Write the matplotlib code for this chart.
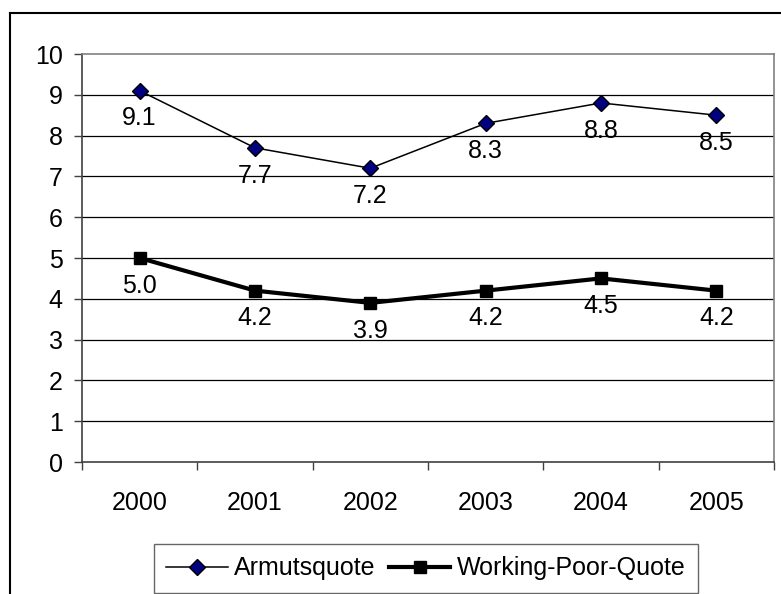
import matplotlib
matplotlib.use("Agg")
import matplotlib.pyplot as plt
from matplotlib.lines import Line2D

plt.rcParams['font.family'] = ['Liberation Sans', 'DejaVu Sans']

years = ["2000", "2001", "2002", "2003", "2004", "2005"]
armutsquote = [9.1, 7.7, 7.2, 8.3, 8.8, 8.5]
working_poor = [5.0, 4.2, 3.9, 4.2, 4.5, 4.2]
y_ticks = [0, 1, 2, 3, 4, 5, 6, 7, 8, 9, 10]

FS = 18

W, H = 781, 594
fig = plt.figure(figsize=(W / 100, H / 100), dpi=100)
fig.patch.set_facecolor('white')

# plot area in pixel units
left, top, right, bottom = 82, 54, 774, 462
ax = fig.add_axes([left / W, 1 - bottom / H, (right - left) / W, (bottom - top) / H])

x = list(range(len(years)))
ax.set_xlim(-0.5, len(years) - 0.5)
ax.set_ylim(0, 10)

for v in y_ticks[1:-1]:
    ax.axhline(v, color='black', lw=0.9, zorder=1)

ax.plot(x, armutsquote, color='black', lw=1.1, marker='D', markersize=8.5,
        markerfacecolor='#000080', markeredgecolor='black', markeredgewidth=1.0,
        label='Armutsquote', zorder=3)
ax.plot(x, working_poor, color='black', lw=3.0, marker='s', markersize=8,
        markerfacecolor='black', markeredgecolor='black',
        label='Working-Poor-Quote', zorder=3)

for xi, v in zip(x, armutsquote):
    ax.annotate(f"{v:.1f}", (xi, v), xytext=(0, -20), textcoords='offset points',
                ha='center', va='center', fontsize=FS, zorder=2)
for xi, v in zip(x, working_poor):
    ax.annotate(f"{v:.1f}", (xi, v), xytext=(0, -20), textcoords='offset points',
                ha='center', va='center', fontsize=FS, zorder=2)

ax.set_yticks(y_ticks)
ax.set_yticklabels([str(t) for t in y_ticks])
ax.set_xticks(x)
ax.set_xticklabels(years)
ax.set_xticks([i - 0.5 for i in range(len(years) + 1)], minor=True)
ax.tick_params(axis='x', which='major', length=0, pad=21, labelsize=FS)
ax.tick_params(axis='x', which='minor', length=6, width=1, color='#404040', direction='out')
ax.tick_params(axis='y', length=6, width=1, color='#404040', pad=8, labelsize=FS)

for s in ['left', 'bottom']:
    ax.spines[s].set_color('#404040')
    ax.spines[s].set_linewidth(1.2)
for s in ['top', 'right']:
    ax.spines[s].set_color('#808080')
    ax.spines[s].set_linewidth(1.2)

leg = fig.legend(loc='lower center', bbox_to_anchor=(426 / W, 1 - 593 / H), ncol=2,
                 fontsize=FS, frameon=True, fancybox=False, handlelength=2.45,
                 columnspacing=0.55, handletextpad=0.25, borderpad=0.5,
                 borderaxespad=0)
leg.get_frame().set_edgecolor('#404040')
leg.get_frame().set_linewidth(1.0)

# outer chart frame (left and top edges)
fig.add_artist(Line2D([9.5 / W, 9.5 / W], [0, 1 - 12.5 / H], transform=fig.transFigure,
                      color='black', lw=1.5))
fig.add_artist(Line2D([9.5 / W, 1], [1 - 12.5 / H, 1 - 12.5 / H], transform=fig.transFigure,
                      color='black', lw=1.5))

fig.savefig('out.png', dpi=100)
